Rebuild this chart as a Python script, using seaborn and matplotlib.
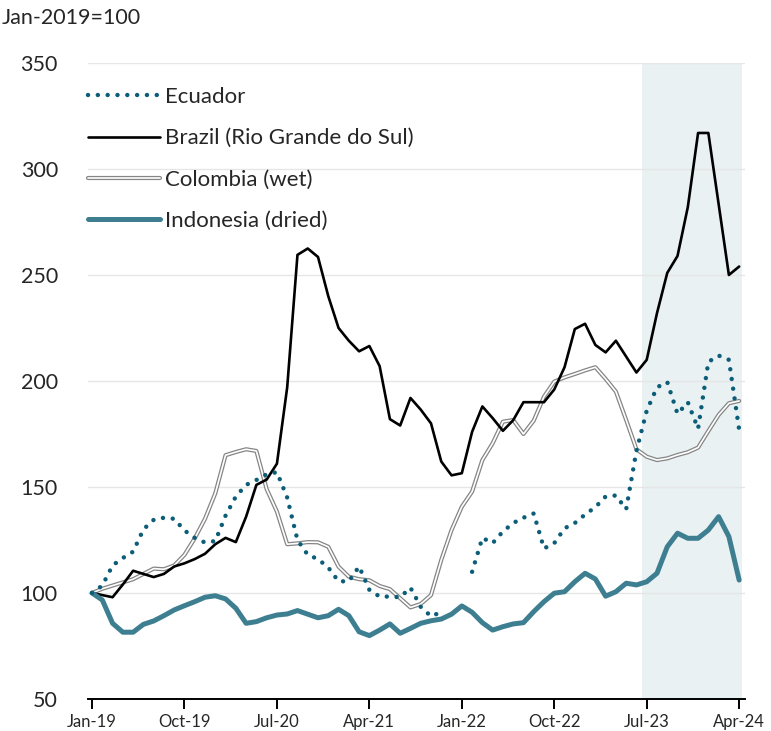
import numpy as np
import pandas as pd
import seaborn as sns
import matplotlib
matplotlib.use("Agg")
import matplotlib.pyplot as plt
from matplotlib.lines import Line2D
from matplotlib.legend_handler import HandlerTuple

sns.set_theme(style="white")
plt.rcParams['font.family'] = ['Lato', 'DejaVu Sans']

# monthly index, Jan-2019 = 100
months = pd.date_range("2019-01-01", "2024-04-01", freq="MS")
tick_labels = ["Jan-19", "Oct-19", "Jul-20", "Apr-21", "Jan-22", "Oct-22", "Jul-23", "Apr-24"]

ecuador = [100, 103.5, 113, 116.5, 119.5, 130, 134.5, 135.5, 135, 129.5,
           126, 123.8, 124.5, 136.5, 145.5, 151, 153.3, 156, 157, 145,
           125, 118, 116, 112, 105.5, 105.5, 112.5, 101.5, 98.3, 98.3,
           98, 102.5, 93.5, 89, 91, np.nan, np.nan, 110, 126, 123.5,
           129, 133, 135.5, 137.5, 121, 123.5, 130.5, 133, 137, 140.5,
           145.5, 146, 139.5, 167, 186, 197, 199.5, 184.5, 190, 177.5,
           209, 212, 210, 177]
brazil = [100, 99, 98, 104, 110.5, 109, 107.5, 109, 112.5, 114,
          116, 118.5, 123, 126, 124, 136, 151, 153.5, 161, 197,
          259.5, 262.5, 258.5, 240, 225, 219, 214, 216.5, 207, 182,
          179, 192, 186.5, 180, 162, 155.5, 156.5, 176, 188, 182.5,
          176.5, 181.5, 190, 190, 190, 196, 206.5, 224.5, 227, 217,
          213.5, 219, 211.5, 204, 210, 232, 251, 259, 282, 317,
          317, 283.5, 250, 254]
colombia = [100, 102, 103.5, 105, 106.5, 109, 111.5, 111.2, 113, 118,
            125.8, 135, 147, 165, 166.5, 167.8, 167, 149, 138.4, 123,
            123.4, 124, 123.9, 121.8, 112.4, 107.7, 106.5, 106, 103.3, 101.8,
            97.5, 93.2, 94.8, 99, 115.6, 129.7, 140.7, 147.8, 162.7, 170.6,
            180.8, 181.6, 175, 181.3, 192.6, 199.7, 201.7, 203.3, 205, 206.5,
            201, 195, 181.6, 167.8, 164.3, 162.7, 163.5, 165.1, 166.4, 168.6,
            176.4, 184, 189.5, 190.6]
indonesia = [100, 96.7, 85.7, 81.5, 81.5, 85.2, 86.8, 89.3, 92, 94,
             95.9, 98, 98.7, 97.2, 92.8, 85.7, 86.5, 88.3, 89.6, 90.1,
             91.7, 90, 88.3, 89.3, 92.3, 89.3, 81.7, 79.9, 82.5, 85.4,
             81, 83.3, 85.7, 86.9, 87.7, 90, 93.9, 90.9, 86, 82.5,
             84.1, 85.4, 86, 91.2, 95.9, 99.9, 100.6, 105.3, 109.3, 106.6,
             98.5, 100.6, 104.6, 103.8, 105.3, 109.3, 121.8, 128.2, 125.8, 125.8,
             129.7, 136, 126.6, 106.1]

x = np.arange(len(months))
df = pd.DataFrame({"x": x, "Ecuador": ecuador, "Brazil": brazil,
                   "Colombia": colombia, "Indonesia": indonesia})

c_ecu = "#0b5d78"
c_ind = "#3d7f91"
c_col = "#858585"

fig = plt.figure(figsize=(7.71, 7.31), dpi=100)
ax = fig.add_axes([0.1147, 0.0438, 0.852, 0.870])

# shaded recent period
ax.axvspan(53.5, 63.3, color="#e9f1f3", zorder=0, lw=0)

# Colombia: double line (grey outline, white core)
sns.lineplot(data=df, x="x", y="Colombia", ax=ax, color=c_col, lw=3.0,
             errorbar=None, zorder=3)
sns.lineplot(data=df, x="x", y="Colombia", ax=ax, color="white", lw=1.2,
             errorbar=None, zorder=3.1)
sns.lineplot(data=df, x="x", y="Brazil", ax=ax, color="black", lw=1.9,
             errorbar=None, zorder=4)
sns.lineplot(data=df, x="x", y="Indonesia", ax=ax, color=c_ind, lw=3.6,
             errorbar=None, zorder=5, solid_capstyle="round")

# Ecuador has gaps: draw each run separately
dots = (0, (0.01, 2.2))
run_id = df["Ecuador"].isna().cumsum()
for _, seg in df[df["Ecuador"].notna()].groupby(run_id[df["Ecuador"].notna()]):
    sns.lineplot(data=seg, x="x", y="Ecuador", ax=ax, color=c_ecu, lw=3.2,
                 linestyle=dots, dash_capstyle="round", errorbar=None, zorder=6)

ax.set_xlim(-0.35, 63.6)
ax.set_ylim(50, 350)
ax.set_yticks(range(50, 351, 50))
ax.set_xticks(x[::9])
ax.set_xticklabels(tick_labels, fontsize=12)
ax.tick_params(axis="y", labelsize=15.5, length=0, pad=22)
ax.tick_params(axis="x", direction="out", length=7, width=1.4, color="black",
               pad=4, bottom=True)
ax.set_xlabel("")
ax.set_ylabel("")
for s in ["left", "right", "top"]:
    ax.spines[s].set_visible(False)
ax.spines["bottom"].set_color("black")
ax.spines["bottom"].set_linewidth(1.4)
ax.yaxis.grid(True, color="#e6e6e6", lw=1)
ax.xaxis.grid(False)
ax.set_axisbelow(True)

fig.text(0.002, 0.975, "Jan-2019=100", fontsize=15.5, ha="left", va="center")

h_ecu = Line2D([], [], color=c_ecu, lw=3.2, linestyle=dots, dash_capstyle="round")
h_bra = Line2D([], [], color="black", lw=1.9)
h_col = (Line2D([], [], color=c_col, lw=3.0), Line2D([], [], color="white", lw=1.2))
h_ind = Line2D([], [], color=c_ind, lw=3.6)
ax.legend([h_ecu, h_bra, h_col, h_ind],
          ["Ecuador", "Brazil (Rio Grande do Sul)", "Colombia (wet)", "Indonesia (dried)"],
          handler_map={tuple: HandlerTuple(ndivide=1)},
          loc="upper left", bbox_to_anchor=(0.0, 0.962), frameon=False,
          fontsize=16, handlelength=3.2, handletextpad=0.25, labelspacing=0.95,
          borderaxespad=0, borderpad=0)

fig.savefig("out.png", dpi=100)
